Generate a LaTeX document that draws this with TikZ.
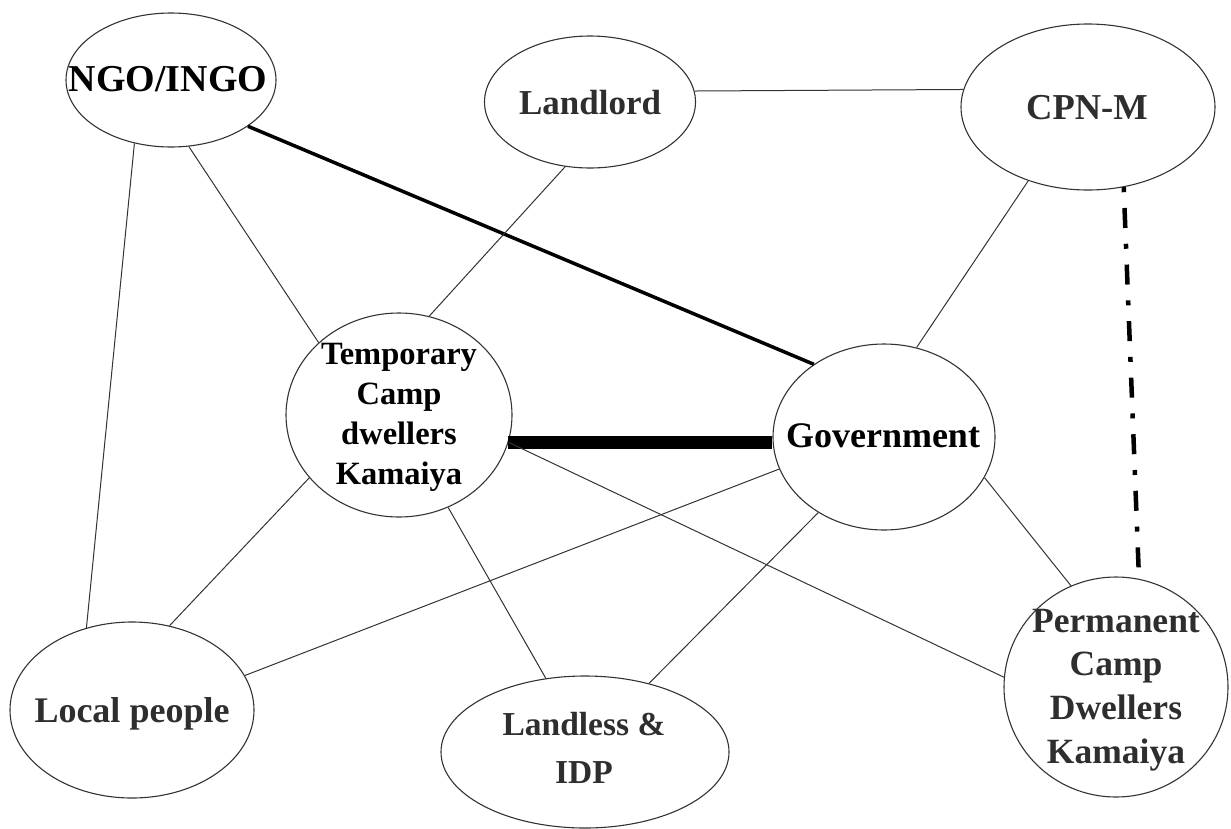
\documentclass[tikz,border=0pt]{standalone}
\usepackage{fontspec}
\setmainfont{Liberation Serif}
\usetikzlibrary{shapes.geometric}
\begin{document}
\begin{tikzpicture}[x=1pt,y=-1pt,
  actor/.style 2 args={draw=black!80, line width=1.1pt, ellipse, inner sep=0pt,
                       minimum width=#1, minimum height=#2},
  who/.style={inner sep=0pt, text=black, font=\bfseries\fontsize{#1}{#1}\selectfont},
  whogray/.style={who=#1, text=black!82},
  tie/.style={draw=black!80, line width=1pt},
  strongtie/.style={draw=black, line width=3.5pt},
  boldtie/.style={draw=black, line width=13pt},
  tensiontie/.style={draw=black, line width=4.5pt,
                     dash pattern=on 5pt off 15.8pt on 20pt off 15.8pt}]
\useasboundingbox (0,0) rectangle (1231,828);

% actors
\node[actor={210}{134}] (ngo)      at (171,80)  {};
\node[actor={211}{132}] (land)     at (590,102) {};
\node[actor={254}{166}] (cpn)      at (1088,107) {};
\node[actor={226}{204}] (temp)     at (399,415) {};
\node[actor={222}{186}] (gov)      at (884,437) {};
\node[actor={244}{176}] (local)    at (132,710) {};
\node[actor={288}{152}] (landless) at (585,752) {};
\node[actor={224}{220}] (perm)     at (1116,687) {};

% names
\node[who=38, anchor=base] (ngoT) at (168,91) {NGO/INGO};
\node[whogray=35, anchor=base] (landT) at (590,114) {Landlord};
\node[whogray=36.5, anchor=base] (cpnT) at (1087,119) {CPN-M};
\node[who=36, anchor=base] (govT) at (883,447) {Government};
\node[whogray=36, anchor=base] (localT) at (132,722) {Local people};
\node[who=32.5, align=center, font=\bfseries\fontsize{32.5}{40}\selectfont] (tempT) at (399,417)
  {Temporary\\Camp\\dwellers\\Kamaiya};
\node[whogray=35.5, align=center, font=\bfseries\fontsize{35.5}{43.7}\selectfont] (permT) at (1116,690)
  {Permanent\\Camp\\Dwellers\\Kamaiya};
\node[whogray=33.5, align=center, font=\bfseries\fontsize{33.5}{48}\selectfont] (landlessT) at (584,748)
  {Landless \&\\IDP};

% relations
\draw[tie] (ngo.-120.2) -- (local.119.1);
\draw[tie] (ngo.-75.8) -- (temp.138.3);
\draw[strongtie] (ngo.-31.6) -- (gov.134.2);
\draw[tie] (land.6.5) -- (cpn.172.3);
\draw[tie] (land.-111.5) -- (temp.73.1);
\draw[tie] (cpn.-129.9) -- (gov.70.3);
\draw[tensiontie] (cpn.-66.5) -- (perm.78.6);
\draw[boldtie] (temp.-14) -- (temp.-14 -| gov.west);
\draw[tie] (temp.-14.9) -- (perm.175.3);
\draw[tie] (temp.-62.6) -- (landless.118.3);
\draw[tie] (temp.-145.3) -- (local.66.5);
\draw[tie] (gov.-163.5) -- (local.17.5);
\draw[tie] (gov.-131.8) -- (landless.47.4);
\draw[tie] (gov.-22.5) -- (perm.114.7);
\end{tikzpicture}
\end{document}
